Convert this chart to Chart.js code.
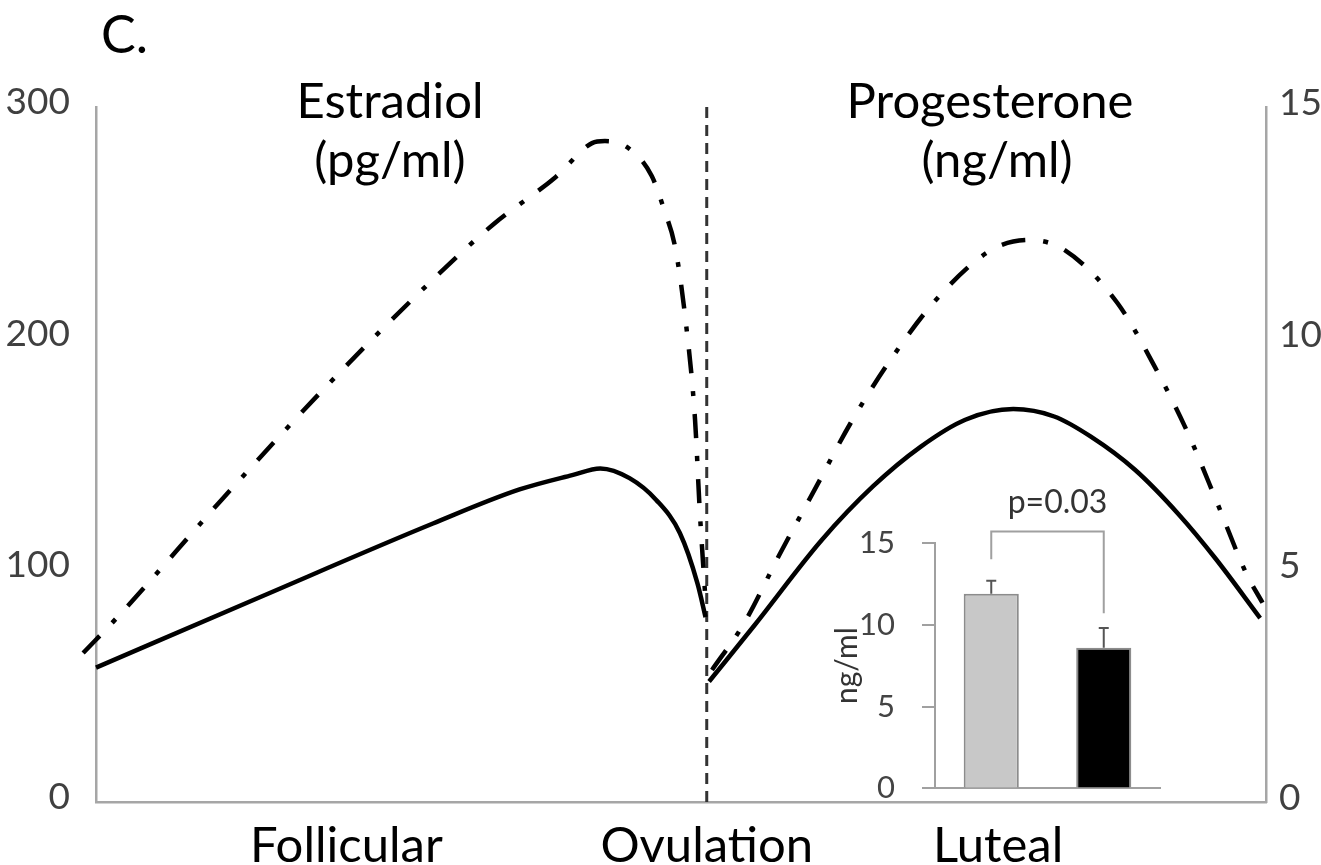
<!DOCTYPE html>
<html lang="en">
<head>
<meta charset="UTF-8">
<title>Estradiol and progesterone across the cycle</title>
<script src="https://cdn.jsdelivr.net/npm/chart.js"></script>
<style>
  body { margin: 0; background: #fff; }
  #wrap { position: relative; width: 1321px; height: 865px; }
  #main { position: absolute; left: 0; top: 0; }
  #inset { position: absolute; left: 820px; top: 470px; }
</style>
</head>
<body>
<div id="wrap">
  <canvas id="main" width="1321" height="865"></canvas>
  <canvas id="inset" width="350" height="364"></canvas>
</div>
<script>
// x = position in the cycle (% of cycle)
const phaseLabels = ['Follicular', 'Ovulation', 'Luteal'];
const phasePos = [21.4, 52.2, 77.1];
const ovulationPos = 52.2;

// estradiol, pg/ml (left axis)
const e2SolidX = [0, 14.0, 28.8, 36.2, 40.7, 43.1, 45.6, 47.9, 49.9, 51.4, 52.1];
const e2SolidY = [58, 88.4, 120.2, 134.9, 141.1, 144, 139.8, 130.3, 116.1, 94.5, 79.8];
const e2DashX = [-1.1, 2.0, 10.8, 19.7, 29.1, 34.0, 39.3, 42.4, 43.5, 45.5, 47.5, 48.6, 49.5, 50.4, 51.2, 51.6, 52.05];
const e2DashY = [64.3, 80.7, 130.8, 179.5, 227, 249.5, 269.8, 284.4, 285.3, 282.3, 270.2, 255, 239.5, 207.6, 165, 126, 90.6];

// progesterone, ng/ml (right axis)
const p4SolidX = [52.4, 56.3, 62.05, 66.4, 70.5, 74.3, 78.4, 81.9, 85.0, 88.8, 92.6, 95.7, 99.5];
const p4SolidY = [2.60, 3.82, 5.66, 6.81, 7.67, 8.25, 8.48, 8.32, 7.89, 7.17, 6.19, 5.25, 3.97];
const p4DashX = [52.65, 55.4, 58.4, 61.4, 64.5, 67.9, 71.8, 76.5, 79.8, 82.8, 87.3, 90.5, 93.4, 95.9, 98.3, 99.7];
const p4DashY = [2.85, 3.86, 5.33, 6.73, 8.18, 9.54, 10.84, 11.91, 12.13, 11.91, 10.77, 9.39, 7.92, 6.41, 4.94, 4.30];

// inset: luteal progesterone
const insetGroups = ['', ''];
const insetMeans = [11.9, 8.6];
const insetErr = [0.8, 1.2];
const insetColors = ['#c8c8c8', '#000000'];
const pValue = 'p=0.03';

Chart.defaults.font.family = "Lato, 'Open Sans', sans-serif";

const axisGrey = '#a6a6a6';
const dashDot = [24, 18, 5, 18];

function curve(xs, ys, axis, dash) {
    return {
        data: xs.map((x, i) => ({ x: x, y: ys[i] })),
        yAxisID: axis,
        borderColor: '#000',
        borderWidth: 4.5,
        borderDash: dash,
        pointRadius: 0,
        cubicInterpolationMode: 'monotone',
        fill: false,
        clip: false
    };
}

const panelText = {
    id: 'panelText',
    afterDraw(chart) {
        const ctx = chart.ctx;
        ctx.save();
        ctx.fillStyle = '#000';
        ctx.textBaseline = 'alphabetic';
        ctx.textAlign = 'left';
        ctx.font = "52px Lato";
        ctx.fillText('C.', 101, 53);
        ctx.textAlign = 'center';
        ctx.font = "49px Lato";
        ctx.fillText('Estradiol', 390, 118);
        ctx.fillText('(pg/ml)', 390, 177);
        ctx.fillText('Progesterone', 990, 118);
        ctx.fillText('(ng/ml)', 997, 177);
        ctx.restore();
    }
};

new Chart(document.getElementById('main'), {
    type: 'line',
    data: {
        datasets: [
            curve(e2SolidX, e2SolidY, 'y', []),
            curve(e2DashX, e2DashY, 'y', dashDot),
            curve(p4SolidX, p4SolidY, 'y2', []),
            curve(p4DashX, p4DashY, 'y2', dashDot),
            {
                data: [{ x: ovulationPos, y: 0 }, { x: ovulationPos, y: 300 }],
                yAxisID: 'y',
                borderColor: '#333',
                borderWidth: 3,
                borderDash: [11, 7],
                pointRadius: 0
            }
        ]
    },
    options: {
        responsive: false,
        animation: false,
        layout: { padding: { top: 107, left: 0, right: 0, bottom: 0 } },
        plugins: { legend: { display: false }, tooltip: { enabled: false } },
        scales: {
            x: {
                type: 'linear',
                min: 0,
                max: 100,
                grid: { display: false },
                border: { color: axisGrey, width: 2.5 },
                ticks: {
                    font: { size: 49 },
                    color: '#000',
                    padding: 7,
                    autoSkip: false,
                    maxRotation: 0,
                    callback: (v, i) => phaseLabels[i]
                },
                afterBuildTicks: s => { s.ticks = phasePos.map(v => ({ value: v })); },
                afterFit: s => { s.height = 63; }
            },
            y: {
                position: 'left',
                min: 0,
                max: 300,
                grid: { display: false },
                border: { color: axisGrey, width: 2.5 },
                ticks: { stepSize: 100, font: { size: 37 }, color: '#404040', padding: 18, labelOffset: -5 },
                afterFit: s => { s.width = 96; }
            },
            y2: {
                position: 'right',
                min: 0,
                max: 15,
                grid: { display: false },
                border: { color: axisGrey, width: 2.5 },
                ticks: { stepSize: 5, font: { size: 37 }, color: '#404040', padding: 5, labelOffset: -4 },
                afterFit: s => { s.width = 55; }
            }
        }
    },
    plugins: [panelText]
});

// error bars, significance bracket and p value on the inset
const insetMarks = {
    id: 'insetMarks',
    afterDatasetsDraw(chart) {
        const ctx = chart.ctx;
        const y = chart.scales.y;
        const bars = chart.getDatasetMeta(0).data;
        ctx.save();
        ctx.strokeStyle = '#555';
        ctx.lineWidth = 2;
        bars.forEach((bar, i) => {
            const top = y.getPixelForValue(insetMeans[i] + insetErr[i]);
            ctx.beginPath();
            ctx.moveTo(bar.x, bar.y);
            ctx.lineTo(bar.x, top);
            ctx.moveTo(bar.x - 5, top);
            ctx.lineTo(bar.x + 5, top);
            ctx.stroke();
        });
        const x0 = bars[0].x, x1 = bars[1].x;
        ctx.strokeStyle = '#a0a0a0';
        ctx.beginPath();
        ctx.moveTo(x0, y.getPixelForValue(14.0));
        ctx.lineTo(x0, y.getPixelForValue(15.7));
        ctx.lineTo(x1, y.getPixelForValue(15.7));
        ctx.lineTo(x1, y.getPixelForValue(10.7));
        ctx.stroke();
        ctx.fillStyle = '#333';
        ctx.font = "32px Lato";
        ctx.textAlign = 'center';
        ctx.textBaseline = 'alphabetic';
        ctx.fillText(pValue, (x0 + x1) / 2 + 10, y.getPixelForValue(16.85));
        ctx.restore();
    }
};

new Chart(document.getElementById('inset'), {
    type: 'bar',
    data: {
        labels: insetGroups,
        datasets: [{
            data: insetMeans,
            backgroundColor: insetColors,
            borderColor: '#8c8c8c',
            borderWidth: 2,
            barPercentage: 0.49,
            categoryPercentage: 1
        }]
    },
    options: {
        responsive: false,
        animation: false,
        layout: { padding: { top: 73, right: 10, left: 0, bottom: 0 } },
        plugins: { legend: { display: false }, tooltip: { enabled: false } },
        scales: {
            x: {
                grid: { display: false },
                ticks: { display: false },
                border: { color: '#a0a0a0', width: 2 },
                afterFit: s => { s.height = 14; }
            },
            y: {
                min: 0,
                max: 15,
                ticks: { stepSize: 5, font: { size: 31 }, color: '#444', padding: 27 },
                grid: { drawOnChartArea: false, tickLength: 13, color: '#a0a0a0', lineWidth: 2 },
                border: { color: '#a0a0a0', width: 2 },
                title: { display: true, text: 'ng/ml', font: { size: 30 }, color: '#333', padding: { top: 9, bottom: 0 } },
                afterFit: s => { s.width = 115; }
            }
        }
    },
    plugins: [insetMarks]
});
</script>
</body>
</html>
